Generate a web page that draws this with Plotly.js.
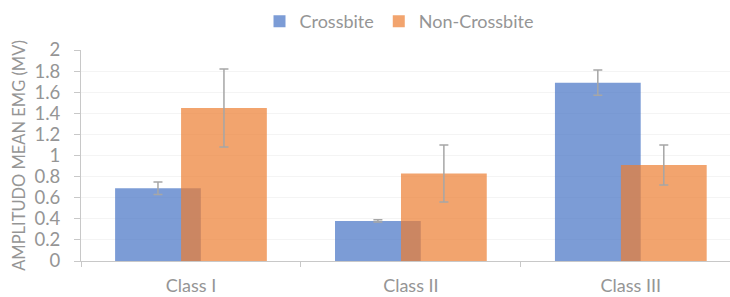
<!DOCTYPE html>
<html>
<head>
<meta charset="utf-8">
<script src="https://cdn.plot.ly/plotly-3.0.1.min.js"></script>
<style>html,body{margin:0;padding:0;background:#fff;}#chart{width:730px;height:297px;}</style>
</head>
<body>
<div id="chart"></div>
<script>
const categories = ["Class I", "Class II", "Class III"];
const crossbite = [0.69, 0.38, 1.69];
const crossbiteErr = [0.06, 0.01, 0.12];
const nonCrossbite = [1.45, 0.83, 0.91];
const nonCrossbiteErr = [0.37, 0.27, 0.19];
const yTicks = [0, 0.2, 0.4, 0.6, 0.8, 1, 1.2, 1.4, 1.6, 1.8, 2];
const yTickText = ["0", "0.2", "0.4", "0.6", "0.8", "1", "1.2", "1.4", "1.6", "1.8", "2"];

const FONT = "Lato, 'Open Sans', sans-serif";
const GREY = "#959595";
const errStyle = {color: "#a6a6a6", thickness: 1.5, width: 4.5};

const traces = [
  {
    type: "bar", name: "Crossbite", x: categories, y: crossbite,
    width: 0.39, offset: -0.345,
    marker: {color: "rgba(68,114,196,0.7)"},
    error_y: Object.assign({type: "data", array: crossbiteErr, visible: true}, errStyle)
  },
  {
    type: "bar", name: "Non-Crossbite", x: categories, y: nonCrossbite,
    width: 0.39, offset: -0.045,
    marker: {color: "rgba(237,125,49,0.7)"},
    error_y: Object.assign({type: "data", array: nonCrossbiteErr, visible: true}, errStyle)
  }
];

const layout = {
  width: 730, height: 297,
  margin: {l: 80.7, r: 0, t: 50, b: 36, pad: 0},
  paper_bgcolor: "#fff", plot_bgcolor: "#fff",
  barmode: "overlay",
  font: {family: FONT, color: GREY, size: 17},
  showlegend: true,
  legend: {orientation: "h", x: 0.49, xanchor: "center", y: 0.865, yanchor: "bottom",
           yref: "container", font: {size: 18, color: GREY}, itemwidth: 30, tracegroupgap: 0},
  xaxis: {
    type: "category", range: [-0.5, 2.451],
    showline: true, linecolor: "#c8c8c8", linewidth: 1,
    ticks: "outside", tickson: "boundaries", ticklen: 5, tickcolor: "#c8c8c8",
    showgrid: false, tickfont: {size: 18, color: GREY}, ticklabelstandoff: 8
  },
  yaxis: {
    range: [0, 2], tickvals: yTicks, ticktext: yTickText,
    showline: true, linecolor: "#c8c8c8", linewidth: 1,
    ticks: "outside", ticklen: 6, tickcolor: "#c8c8c8",
    showgrid: true, gridcolor: "#f4f4f4", zeroline: false,
    tickfont: {size: 18.5, color: GREY}, ticklabelstandoff: 10,
    title: {text: "AMPLITUDO MEAN EMG (MV)", font: {size: 16.5, color: GREY}, standoff: 4}
  }
};

Plotly.newPlot("chart", traces, layout, {displayModeBar: false, staticPlot: true});
</script>
</body>
</html>
